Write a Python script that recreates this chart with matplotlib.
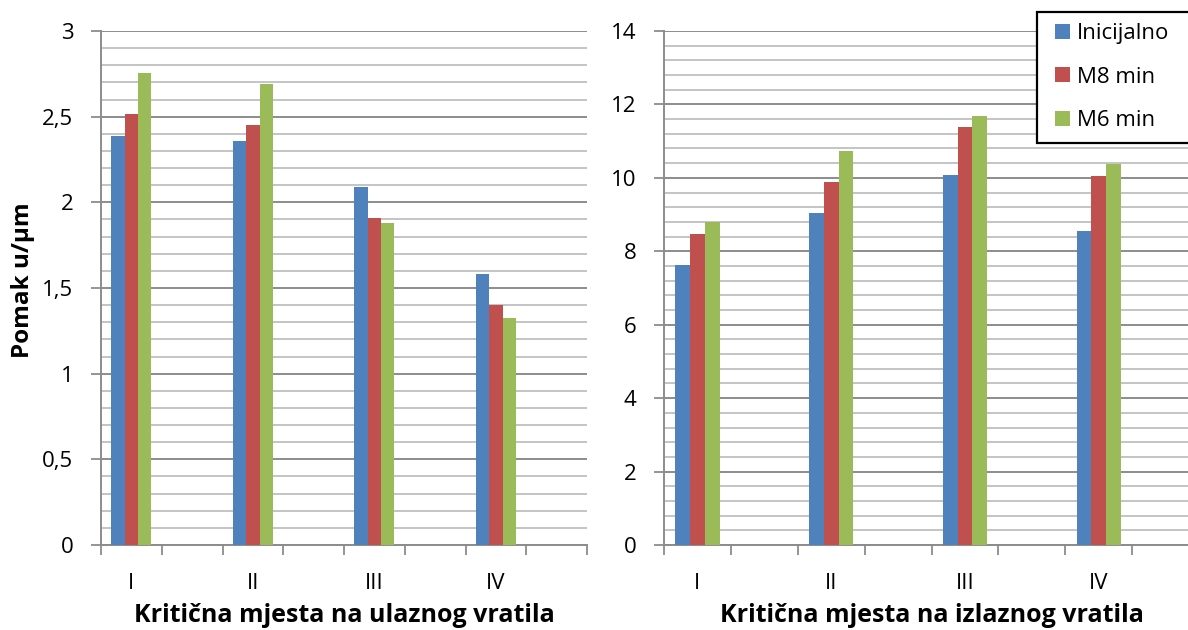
import matplotlib
matplotlib.use("Agg")
import matplotlib.pyplot as plt
from matplotlib.patches import Patch, Rectangle
from matplotlib.legend_handler import HandlerPatch
from matplotlib.ticker import MultipleLocator, FixedLocator
import numpy as np

plt.rcParams['font.family'] = ['Open Sans', 'DejaVu Sans']

categories = ["I", "II", "III", "IV"]
series_names = ["Inicijalno", "M8 min", "M6 min"]
colors = ["#4F81BD", "#C0504D", "#9BBB59"]

# left chart: ulazno vratilo
left_vals = {
    "Inicijalno": [2.39, 2.36, 2.09, 1.58],
    "M8 min":     [2.515, 2.45, 1.91, 1.40],
    "M6 min":     [2.755, 2.69, 1.88, 1.325],
}
left_yticks = [0, 0.5, 1, 1.5, 2, 2.5, 3]
left_yticklabels = ["0", "0,5", "1", "1,5", "2", "2,5", "3"]

# right chart: izlazno vratilo
right_vals = {
    "Inicijalno": [7.63, 9.05, 10.08, 8.55],
    "M8 min":     [8.46, 9.89, 11.38, 10.05],
    "M6 min":     [8.81, 10.72, 11.68, 10.39],
}
right_yticks = [0, 2, 4, 6, 8, 10, 12, 14]
right_yticklabels = ["0", "2", "4", "6", "8", "10", "12", "14"]

W, H = 1188, 630
fig = plt.figure(figsize=(W / 100, H / 100), dpi=100)

ax1 = fig.add_axes([101 / W, (H - 545) / H, 486 / W, 514 / H])
ax2 = fig.add_axes([664 / W, (H - 545) / H, 535 / W, 514 / H])

n_slots = 2 * len(categories)
slot_pos = np.arange(len(categories)) * 2
bw = 0.22
FS = 16
LFS = 18
grid_major = "#8C8C8C"
grid_minor = "#C4C4C4"

def style(ax, vals, yticks, yticklabels, minor_step, xlabel):
    for i, name in enumerate(series_names):
        ax.bar(slot_pos + (i - 1) * bw, vals[name], width=bw, color=colors[i],
               edgecolor="none", zorder=3)
    ax.set_xlim(-0.5, n_slots - 0.5)
    ax.set_ylim(yticks[0], yticks[-1])
    ax.set_yticks(yticks)
    ax.set_yticklabels(yticklabels)
    ax.yaxis.set_minor_locator(MultipleLocator(minor_step))
    ax.grid(True, which="major", axis="y", color=grid_major, lw=1.4, zorder=0)
    ax.grid(True, which="minor", axis="y", color=grid_minor, lw=1.4, zorder=0)
    ax.set_xticks(np.arange(-0.5, n_slots, 1.0))
    ax.set_xticklabels([])
    ax.xaxis.set_minor_locator(FixedLocator(slot_pos))
    ax.set_xticklabels(categories, minor=True)
    ax.tick_params(axis="x", which="major", length=7, width=1.3, color=grid_major,
                   direction="out")
    ax.tick_params(axis="x", which="minor", length=0, pad=20, labelsize=FS)
    ax.tick_params(axis="y", which="major", length=7, width=1.3, color=grid_major,
                   direction="out", pad=13, labelsize=FS)
    ax.tick_params(axis="y", which="minor", length=0)
    for s in ["top", "right"]:
        ax.spines[s].set_visible(False)
    for s in ["left", "bottom"]:
        ax.spines[s].set_color(grid_major)
        ax.spines[s].set_linewidth(1.4)
    ax.set_xlabel(xlabel, fontsize=LFS, fontweight="bold", labelpad=7)

style(ax1, left_vals, left_yticks, left_yticklabels, 0.1,
      "Kritična mjesta na ulaznog vratila")
style(ax2, right_vals, right_yticks, right_yticklabels, 0.4,
      "Kritična mjesta na izlaznog vratila")

fig.text(23 / W, 1 - 280 / H, "Pomak u/µm", rotation=90, fontsize=17.5,
         fontweight="bold", ha="center", va="center")

SQ = 10.8  # legend square size in points

def square(legend, orig_handle, xdescent, ydescent, width, height, fontsize):
    return Rectangle((-xdescent + width - SQ, -ydescent + (height - SQ) / 2),
                     SQ, SQ)

handles = [Patch(facecolor=c, edgecolor="none") for c in colors]
leg = fig.legend(handles, series_names, loc="upper left",
                 bbox_to_anchor=(1037 / W, 1 - 12 / H, 200 / W, 0.0),
                 mode="expand", fontsize=FS, frameon=True, fancybox=False,
                 framealpha=1, edgecolor="black", handlelength=0.99,
                 handleheight=0.7, handletextpad=0.31, labelspacing=1.02,
                 borderpad=0.5, borderaxespad=0,
                 handler_map={Patch: HandlerPatch(patch_func=square)})
leg.get_frame().set_linewidth(1.6)

fig.savefig("out.png", dpi=100)
